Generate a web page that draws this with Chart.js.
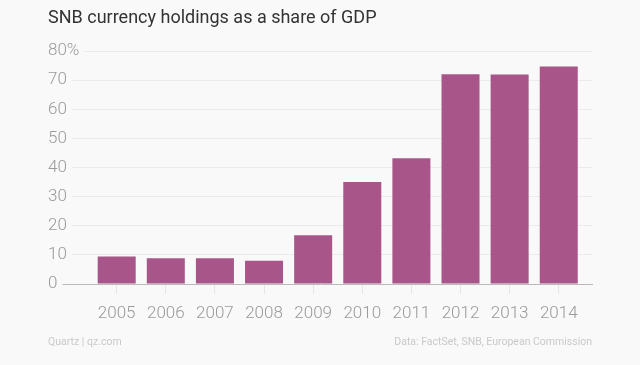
<!DOCTYPE html>
<html>
<head>
<meta charset="utf-8">
<script src="https://cdn.jsdelivr.net/npm/chart.js@4.4.1/dist/chart.umd.min.js"></script>
<style>
  html, body { margin: 0; padding: 0; background: #f9f9f9; }
  #wrap { width: 640px; height: 365px; position: relative; }
</style>
</head>
<body>
<div id="wrap"><canvas id="c" width="640" height="365"></canvas></div>
<script>
const titleText = 'SNB currency holdings as a share of GDP';
const years = ['2005', '2006', '2007', '2008', '2009', '2010', '2011', '2012', '2013', '2014'];
const shareOfGdp = [9.4, 8.8, 8.8, 8.0, 16.7, 35.0, 43.2, 72.0, 71.9, 74.7];
const yTickMax = 80;
const yTickStep = 10;
const sourceLeft = 'Quartz | qz.com';
const sourceRight = 'Data: FactSet, SNB, European Commission';

const BG = '#f9f9f9';
const FONT = 'Roboto, "Liberation Sans", sans-serif';

const points = shareOfGdp.map((v, i) => ({ x: i, y: v }));

const footerPlugin = {
  id: 'footerText',
  afterDraw(chart) {
    const ctx = chart.ctx;
    ctx.save();
    ctx.font = '10.5px ' + FONT;
    ctx.fillStyle = '#c9c9c9';
    ctx.textBaseline = 'middle';
    ctx.textAlign = 'left';
    ctx.fillText(sourceLeft, 48, 342);
    ctx.textAlign = 'right';
    ctx.fillText(sourceRight, 592, 342);
    ctx.restore();
  }
};

new Chart(document.getElementById('c'), {
  type: 'bar',
  data: {
    datasets: [{
      data: points,
      backgroundColor: '#a8568a',
      borderWidth: 0,
      categoryPercentage: 1,
      barPercentage: 0.774
    }]
  },
  options: {
    responsive: false,
    animation: false,
    layout: { padding: { left: 48, right: 48, top: 0, bottom: 0 } },
    plugins: {
      legend: { display: false },
      tooltip: { enabled: false },
      title: {
        display: true,
        text: titleText,
        align: 'start',
        color: '#333333',
        font: { family: FONT, size: 18, weight: '400', lineHeight: 1.2 },
        padding: { top: 8, bottom: 21.4 }
      }
    },
    scales: {
      x: {
        type: 'linear',
        min: -1.3986,
        max: 9.677,
        offset: false,
        afterBuildTicks(scale) {
          scale.ticks = years.map((y, i) => ({ value: i }));
        },
        afterFit(scale) { scale.height = 81; },
        grid: {
          z: -2,
          offset: false,
          drawOnChartArea: false,
          drawTicks: true,
          tickLength: 10,
          tickColor: '#e6e6e6'
        },
        border: { display: true, color: '#b9b9b9', width: 1, z: -2 },
        ticks: {
          autoSkip: false,
          maxRotation: 0,
          padding: 10,
          color: '#9a9a9a',
          font: { family: FONT, size: 17, weight: '300' },
          callback: (v) => years[Math.round(v)] ?? ''
        }
      },
      y: {
        min: 0,
        max: yTickMax,
        afterFit(scale) { scale.width = 0; },
        grid: {
          drawTicks: false,
          z: -3,
          color: (ctx) => (ctx.tick && ctx.tick.value === 0) ? 'rgba(0,0,0,0)' : '#ebebeb',
          lineWidth: 1
        },
        border: { display: false },
        ticks: {
          stepSize: yTickStep,
          mirror: true,
          padding: 0,
          z: 1,
          color: '#9a9a9a',
          font: { family: FONT, size: 17, weight: '300' },
          showLabelBackdrop: true,
          backdropColor: BG,
          backdropPadding: { left: 0, right: 5, top: 0, bottom: 0 },
          callback: (v) => v === yTickMax ? v + '%' : String(v)
        }
      }
    }
  },
  plugins: [footerPlugin]
});
</script>
</body>
</html>
